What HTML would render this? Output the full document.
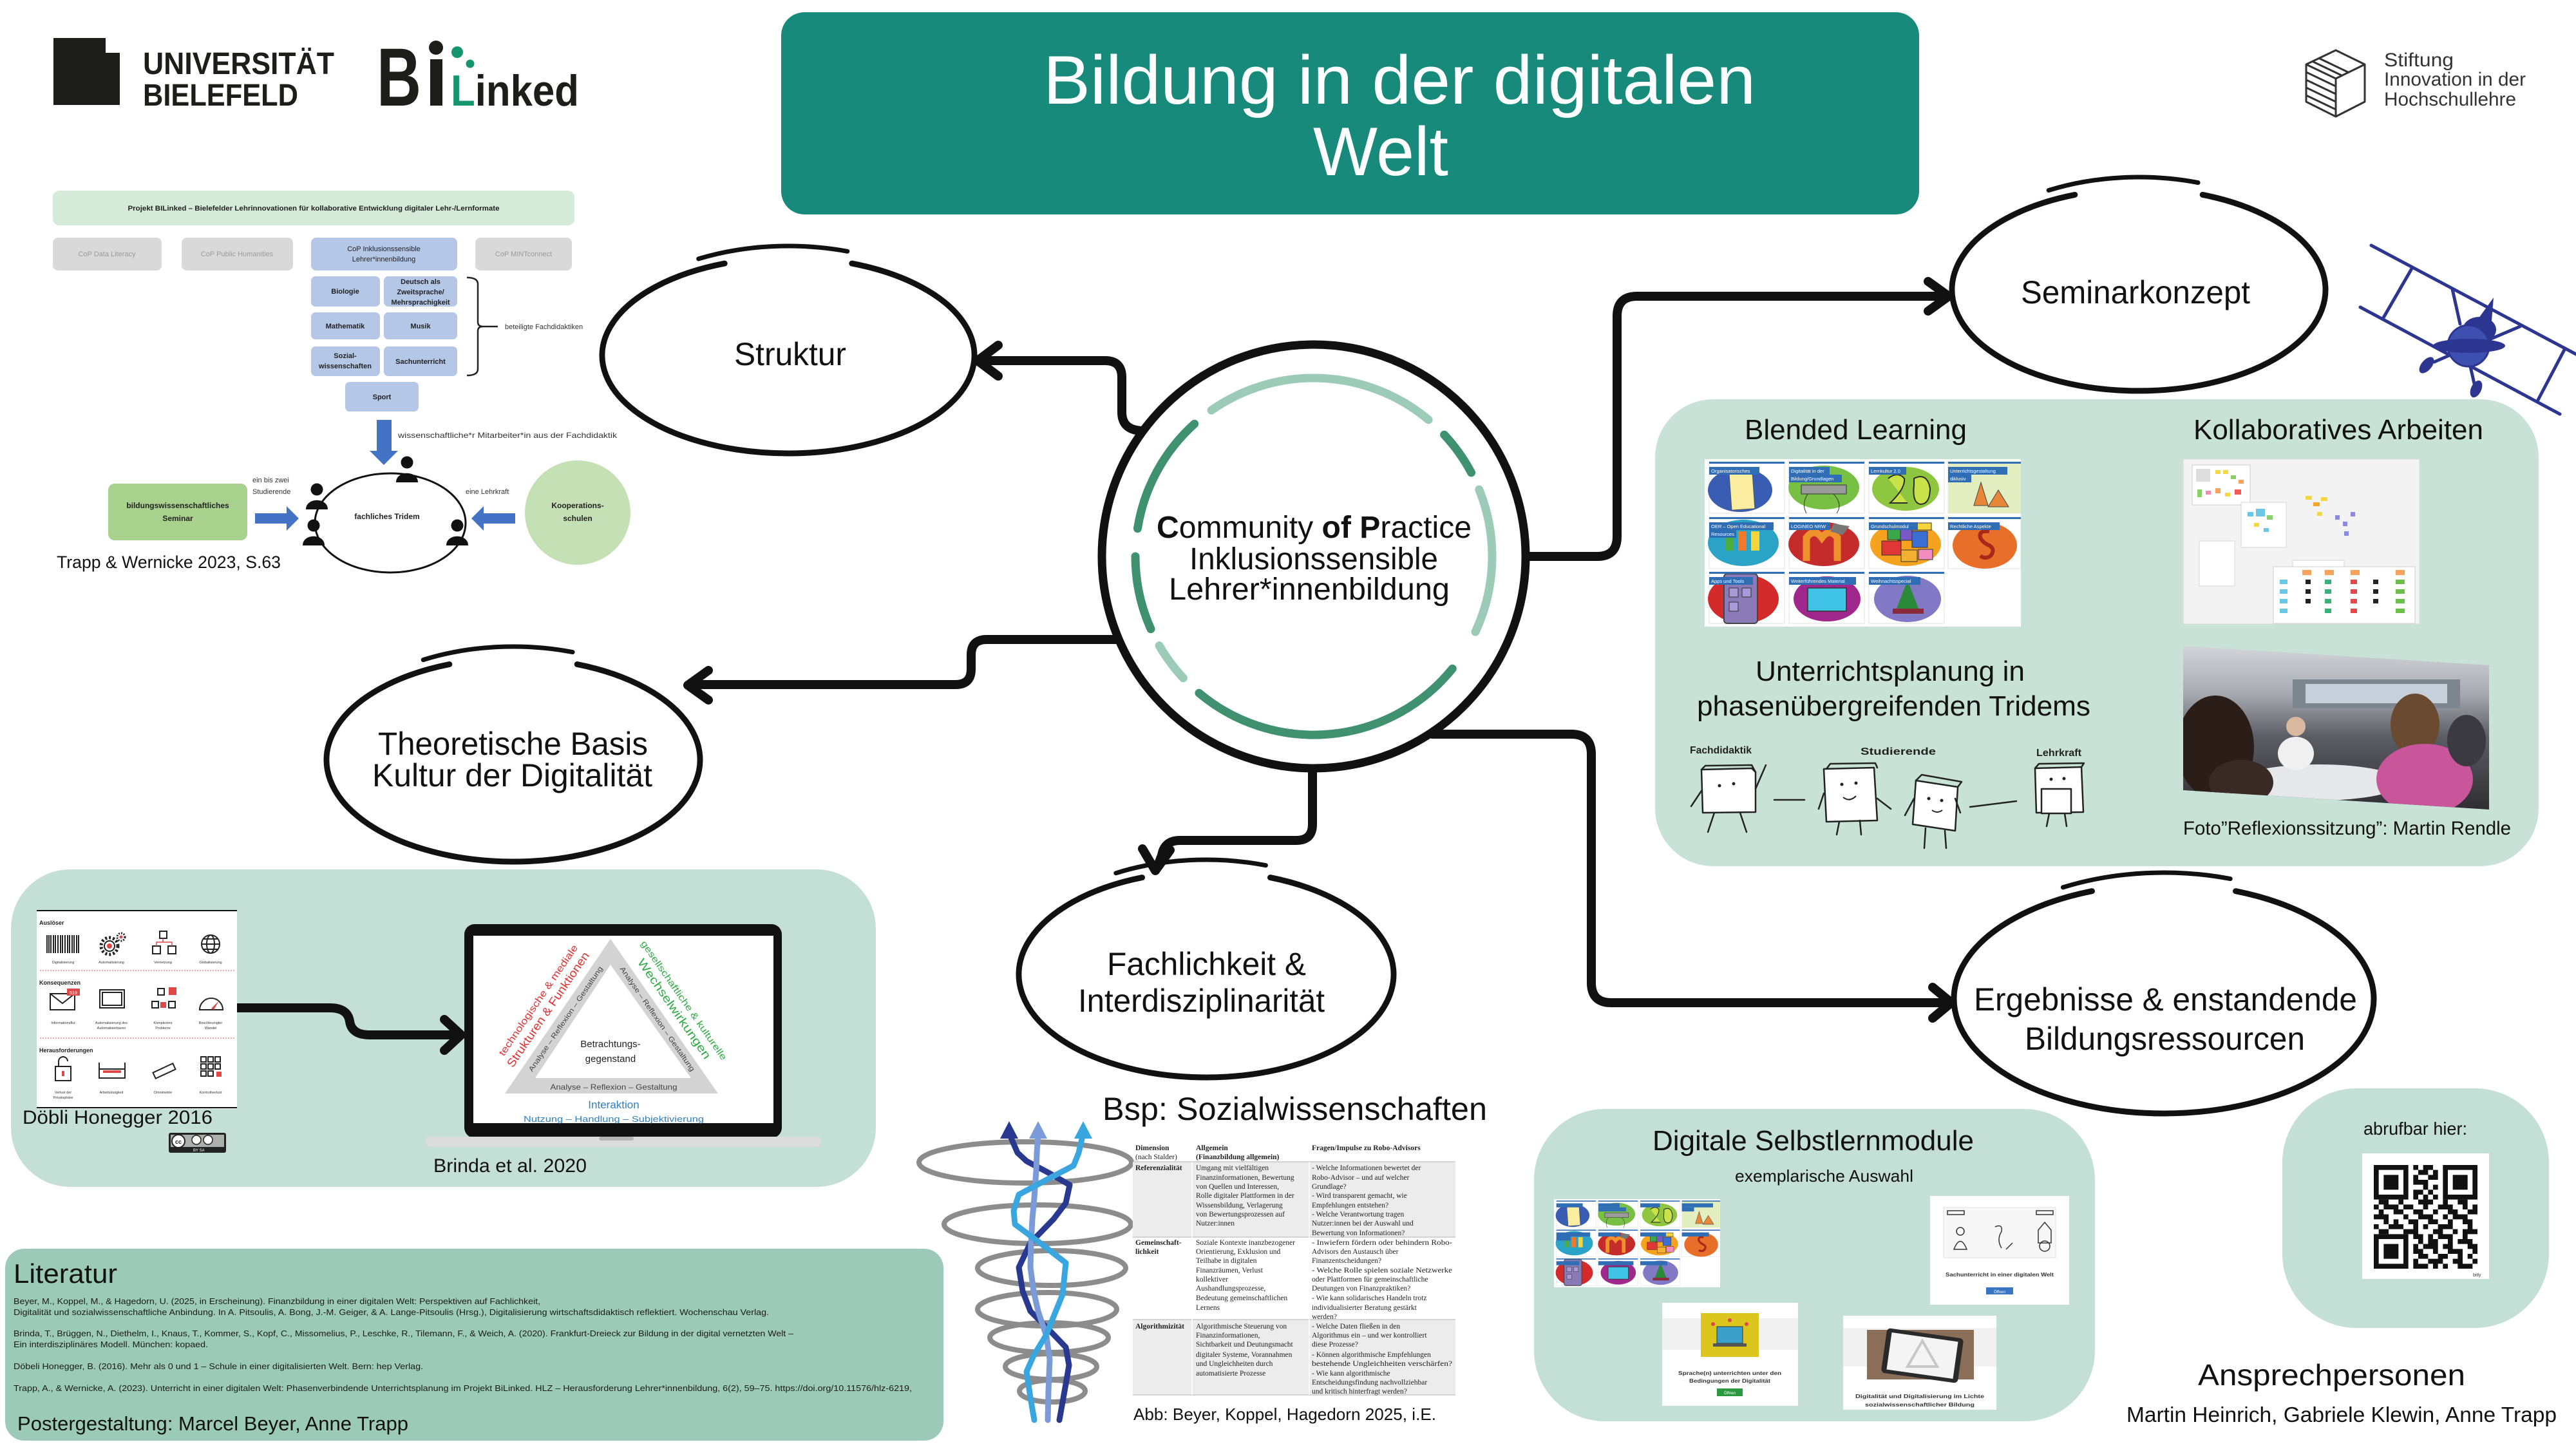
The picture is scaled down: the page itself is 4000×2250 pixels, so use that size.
<!DOCTYPE html>
<html><head><meta charset="utf-8">
<style>
html,body{margin:0;padding:0;background:#fff;}
body{width:4000px;height:2250px;overflow:hidden;}
svg{display:block;font-family:"Liberation Sans",Arial,sans-serif;}
.ser{font-family:"Liberation Serif","Times New Roman",serif;}
</style></head><body>
<svg width="4000" height="2250" viewBox="0 0 4000 2250" xmlns="http://www.w3.org/2000/svg">
<defs>
<symbol id="grid" viewBox="0 0 491 260">
<rect width="491" height="260" fill="#fff"/>
<g stroke="#e2e2e2" fill="#fff">
<rect x="7" y="4" width="117" height="80"/><rect x="131" y="4" width="117" height="80"/><rect x="255" y="4" width="117" height="80"/><rect x="378" y="4" width="113" height="80"/>
<rect x="7" y="90" width="117" height="80"/><rect x="131" y="90" width="117" height="80"/><rect x="255" y="90" width="117" height="80"/><rect x="378" y="90" width="113" height="80"/>
<rect x="7" y="175" width="117" height="80"/><rect x="131" y="175" width="117" height="80"/><rect x="255" y="175" width="117" height="80"/>
</g>
<ellipse cx="55" cy="48" rx="50" ry="34" fill="#3a5db4"/>
<rect x="40" y="22" width="36" height="56" fill="#fbeea0" stroke="#555" transform="rotate(-4 58 50)"/>
<ellipse cx="185" cy="44" rx="55" ry="34" fill="#78c043"/>
<rect x="150" y="40" width="70" height="14" fill="#9a9a9a" stroke="#333"/>
<path d="M160 54 Q150 70 158 84 M200 54 Q215 70 205 84" stroke="#333" fill="none"/>
<ellipse cx="312" cy="46" rx="52" ry="34" fill="#8ec63f"/>
<path d="M285 30 Q300 18 310 30 Q312 45 288 68 H315 M325 30 Q345 20 350 45 Q350 70 335 70 Q322 68 325 40Z" stroke="#2a2a2a" stroke-width="2" fill="#c9e24a"/>
<rect x="378" y="4" width="113" height="80" fill="#e2eebf"/>
<polygon points="418,72 429,36 440,72" fill="#e8873a" stroke="#444"/>
<polygon points="440,74 456,48 472,74" fill="#e8873a" stroke="#444"/>
<ellipse cx="60" cy="130" rx="55" ry="36" fill="#2aa3c6"/>
<rect x="33" y="112" width="11" height="30" fill="#4cae3c"/><rect x="52" y="112" width="13" height="30" fill="#f07a2a"/><rect x="72" y="112" width="13" height="30" fill="#f5d53a"/>
<ellipse cx="185" cy="132" rx="55" ry="34" fill="#c42b2b"/>
<path d="M158 158 V122 Q170 106 182 122 Q194 106 206 122 V158" stroke="#f0922b" stroke-width="11" fill="none"/>
<polygon points="200,100 225,104 214,118 195,112" fill="#777"/>
<ellipse cx="312" cy="132" rx="55" ry="34" fill="#f5a21e"/>
<rect x="275" y="127" width="30" height="22" fill="#e03636" stroke="#333"/><rect x="300" y="106" width="22" height="20" fill="#7a58c8" stroke="#333"/><rect x="322" y="112" width="24" height="25" fill="#3b6fd4" stroke="#333"/><rect x="284" y="109" width="20" height="16" fill="#3aa84a" stroke="#333"/><rect x="305" y="141" width="25" height="18" fill="#f5b032" stroke="#333"/><rect x="332" y="140" width="22" height="16" fill="#f28cc0" stroke="#333"/><rect x="322" y="99" width="30" height="11" fill="#f7d43c" stroke="#333"/>
<ellipse cx="435" cy="134" rx="50" ry="36" fill="#e86f2a"/>
<path d="M442 112 Q425 110 428 122 Q432 130 442 134 Q452 140 444 150 Q436 156 428 150" stroke="#a8281a" stroke-width="6" fill="none"/>
<ellipse cx="60" cy="217" rx="55" ry="38" fill="#d52a2a"/>
<rect x="30" y="178" width="52" height="77" rx="5" fill="#8b7ab8" stroke="#444" stroke-width="2"/>
<rect x="38" y="200" width="14" height="14" fill="#a89ad8" stroke="#333"/><rect x="58" y="200" width="14" height="14" fill="#a89ad8" stroke="#333"/><rect x="38" y="222" width="14" height="14" fill="#a89ad8" stroke="#333"/>
<ellipse cx="190" cy="217" rx="52" ry="35" fill="#a0288c"/>
<rect x="160" y="200" width="60" height="36" fill="#3fc4e6" stroke="#333" stroke-width="1.5"/>
<ellipse cx="315" cy="217" rx="52" ry="36" fill="#8179c6"/>
<polygon points="315,188 298,232 332,232" fill="#2a8a3a"/>
<rect x="292" y="232" width="48" height="8" fill="#8a2a3a"/>
<g fill="#2f6db5">
<rect x="7" y="4" width="117" height="3"/><rect x="131" y="4" width="117" height="3"/><rect x="255" y="4" width="117" height="3"/><rect x="378" y="4" width="113" height="3"/>
<rect x="7" y="90" width="117" height="3"/><rect x="131" y="90" width="117" height="3"/><rect x="255" y="90" width="117" height="3"/><rect x="378" y="90" width="113" height="3"/>
<rect x="7" y="175" width="117" height="3"/><rect x="131" y="175" width="117" height="3"/><rect x="255" y="175" width="117" height="3"/>
<rect x="7" y="12" width="78" height="12"/><rect x="131" y="12" width="63" height="12"/><rect x="131" y="24" width="82" height="12"/>
<rect x="255" y="12" width="58" height="12"/><rect x="378" y="12" width="92" height="12"/><rect x="378" y="24" width="36" height="12"/>
<rect x="7" y="98" width="100" height="12"/><rect x="7" y="110" width="42" height="12"/><rect x="131" y="98" width="64" height="12"/>
<rect x="255" y="98" width="76" height="12"/><rect x="378" y="98" width="80" height="12"/>
<rect x="7" y="183" width="68" height="12"/><rect x="131" y="183" width="104" height="12"/><rect x="255" y="183" width="80" height="12"/>
</g>
</symbol>
<linearGradient id="ph" x1="0" y1="0" x2="0" y2="1">
<stop offset="0" stop-color="#d4d7db"/><stop offset="0.3" stop-color="#a6aab0"/><stop offset="0.55" stop-color="#5b5e64"/><stop offset="1" stop-color="#2e2c30"/>
</linearGradient>
<clipPath id="phc"><polygon points="3390,1003 3865,1033 3865,1257 3390,1227"/></clipPath>
</defs>

<!-- ===== LOGOS ===== -->
<path d="M83 59H164V82H186V163H83Z" fill="#1d1d1b"/>
<text x="222" y="115" font-size="48" font-weight="700" textLength="297" lengthAdjust="spacingAndGlyphs" fill="#1d1d1b">UNIVERSITÄT</text>
<text x="222" y="164" font-size="48" font-weight="700" textLength="241" lengthAdjust="spacingAndGlyphs" fill="#1d1d1b">BIELEFELD</text>
<text x="585" y="164" font-size="128" font-weight="700" textLength="69" lengthAdjust="spacingAndGlyphs" fill="#1d1d1b">B</text>
<rect x="668" y="92" width="19" height="72" fill="#1d1d1b"/>
<circle cx="677" cy="74" r="11" fill="#1d1d1b"/>
<circle cx="710" cy="81" r="9" fill="#16966e"/>
<circle cx="730" cy="99" r="6.5" fill="#16966e"/>
<text x="700" y="164" font-size="68" font-weight="700" textLength="199" lengthAdjust="spacingAndGlyphs" fill="#1d1d1b"><tspan fill="#16966e">L</tspan>inked</text>

<g stroke="#333" stroke-width="3" fill="none" stroke-linejoin="round">
<path d="M3627 78 L3672 100 L3672 158 L3627 181 L3581 158 L3581 100 Z"/>
<path d="M3581 100 L3627 122 L3672 100 M3627 122 V181"/>
<path d="M3581 112 L3627 134 M3581 124 L3627 146 M3581 136 L3627 158 M3581 148 L3627 170 M3590 95 L3636 117 M3600 90 L3646 112"/>
</g>
<g font-size="30" fill="#333">
<text x="3702" y="103" textLength="108" lengthAdjust="spacingAndGlyphs">Stiftung</text>
<text x="3702" y="133" textLength="220" lengthAdjust="spacingAndGlyphs">Innovation in der</text>
<text x="3702" y="164" textLength="205" lengthAdjust="spacingAndGlyphs">Hochschullehre</text>
</g>

<!-- ===== TITLE ===== -->
<rect x="1213" y="19" width="1767" height="314" rx="36" fill="#178a7b"/>
<text x="1620" y="161" font-size="107" fill="#fff" textLength="1106" lengthAdjust="spacingAndGlyphs">Bildung in der digitalen</text>
<text x="2039" y="272" font-size="107" fill="#fff" textLength="210" lengthAdjust="spacingAndGlyphs">Welt</text>

<!-- ===== PANELS ===== -->
<rect x="2570" y="620" width="1372" height="725" rx="90" fill="#c8e2d7"/>
<rect x="17" y="1350" width="1343" height="493" rx="92" fill="#c4dfd5"/>
<rect x="2382" y="1722" width="871" height="485" rx="110" fill="#c4dfd5"/>
<rect x="3544" y="1690" width="414" height="372" rx="115" fill="#c4dfd5"/>
<rect x="8" y="1939" width="1457" height="298" rx="30" fill="#9ccab9"/>

<!-- ===== STRUCTURE DIAGRAM ===== -->
<rect x="82" y="296" width="810" height="54" rx="10" fill="#d5ead9"/>
<text x="487" y="327" font-size="11" font-weight="700" text-anchor="middle" textLength="577" lengthAdjust="spacingAndGlyphs" fill="#222">Projekt BILinked – Bielefelder Lehrinnovationen für kollaborative Entwicklung digitaler Lehr-/Lernformate</text>
<rect x="82" y="369" width="169" height="51" rx="8" fill="#d9d9d9"/>
<rect x="282" y="369" width="173" height="51" rx="8" fill="#d9d9d9"/>
<rect x="483" y="369" width="227" height="51" rx="8" fill="#b4c7e7"/>
<rect x="738" y="369" width="150" height="51" rx="8" fill="#d9d9d9"/>
<g font-size="11" fill="#9a9a9a" text-anchor="middle">
<text x="166" y="398">CoP Data Literacy</text>
<text x="368" y="398">CoP Public Humanities</text>
<text x="813" y="398">CoP MINTconnect</text>
</g>
<g fill="#b4c7e7">
<rect x="483" y="429" width="107" height="47" rx="7"/><rect x="596" y="429" width="114" height="47" rx="7"/>
<rect x="483" y="485" width="107" height="42" rx="7"/><rect x="596" y="485" width="114" height="42" rx="7"/>
<rect x="483" y="538" width="107" height="46" rx="7"/><rect x="596" y="538" width="114" height="46" rx="7"/>
<rect x="536" y="593" width="114" height="46" rx="7"/>
</g>
<g font-size="11" font-weight="700" fill="#222" text-anchor="middle">
<text x="596" y="390" font-weight="400">CoP Inklusionssensible</text>
<text x="596" y="406" font-weight="400">Lehrer*innenbildung</text>
<text x="536" y="456">Biologie</text>
<text x="653" y="441">Deutsch als</text>
<text x="653" y="457">Zweitsprache/</text>
<text x="653" y="473">Mehrsprachigkeit</text>
<text x="536" y="510">Mathematik</text>
<text x="653" y="510">Musik</text>
<text x="536" y="556">Sozial-</text>
<text x="536" y="572">wissenschaften</text>
<text x="653" y="565">Sachunterricht</text>
<text x="593" y="620">Sport</text>
</g>
<path d="M725 431 Q742 431 742 441 V500 Q742 507 750 507 H773 M750 507 Q742 507 742 514 V573 Q742 583 725 583" stroke="#222" stroke-width="2.5" fill="none"/>
<text x="784" y="511" font-size="11" fill="#333">beteiligte Fachdidaktiken</text>
<rect x="585" y="652" width="23" height="48" fill="#4472c4"/>
<polygon points="574,700 618,700 596,722" fill="#4472c4"/>
<text x="618" y="680" font-size="12" fill="#333" textLength="340" lengthAdjust="spacingAndGlyphs">wissenschaftliche*r Mitarbeiter*in aus der Fachdidaktik</text>
<ellipse cx="606" cy="812" rx="117" ry="77" fill="none" stroke="#111" stroke-width="3"/>
<g fill="#111">
<circle cx="632" cy="718" r="9.5"/><path d="M615 749 C615 730 649 730 649 749Z"/>
<circle cx="492" cy="760" r="9.5"/><path d="M475 791 C475 772 509 772 509 791Z"/>
<circle cx="487" cy="816" r="9.5"/><path d="M470 847 C470 828 504 828 504 847Z"/>
<circle cx="710" cy="816" r="9.5"/><path d="M693 847 C693 828 727 828 727 847Z"/>
</g>
<text x="601" y="806" font-size="12" font-weight="700" text-anchor="middle" fill="#222">fachliches Tridem</text>
<text x="392" y="749" font-size="11" fill="#333">ein bis zwei</text>
<text x="392" y="767" font-size="11" fill="#333">Studierende</text>
<text x="723" y="767" font-size="11" fill="#333">eine Lehrkraft</text>
<rect x="168" y="751" width="216" height="88" rx="10" fill="#a9d18e"/>
<text x="276" y="789" font-size="12" font-weight="700" text-anchor="middle" fill="#222">bildungswissenschaftliches</text>
<text x="276" y="809" font-size="12" font-weight="700" text-anchor="middle" fill="#222">Seminar</text>
<rect x="396" y="797" width="50" height="16" fill="#4472c4"/>
<polygon points="445,786 445,824 464,805" fill="#4472c4"/>
<polygon points="751,786 751,824 732,805" fill="#4472c4"/>
<rect x="750" y="797" width="50" height="16" fill="#4472c4"/>
<ellipse cx="897" cy="796" rx="82" ry="81" fill="#c5e0b4"/>
<text x="897" y="789" font-size="12" font-weight="700" text-anchor="middle" fill="#222">Kooperations-</text>
<text x="897" y="809" font-size="12" font-weight="700" text-anchor="middle" fill="#222">schulen</text>
<text x="88" y="882" font-size="27" fill="#111" textLength="348" lengthAdjust="spacingAndGlyphs">Trapp &amp; Wernicke 2023, S.63</text>

<!-- ===== CONNECTORS ===== -->
<g stroke="#111" stroke-width="14" fill="none" stroke-linecap="round" stroke-linejoin="round">
<path d="M1776 669 Q1742 669 1742 640 V586 Q1742 560 1716 560 H1522"/>
<path d="M1550 536 L1518 560 L1550 584"/>
<path d="M1740 993 H1532 Q1508 993 1508 1017 V1039 Q1508 1063 1484 1063 H1072"/>
<path d="M1100 1041 L1068 1064 L1100 1087"/>
<path d="M2370 864 H2480 Q2511 864 2511 833 V491 Q2511 460 2542 460 H3022"/>
<path d="M2994 437 L3026 460 L2994 483"/>
<path d="M2224 1140 H2440 Q2471 1140 2471 1171 V1526 Q2471 1557 2502 1557 H3024"/>
<path d="M3001 1533 L3030 1557 L3001 1581"/>
<path d="M2038 1195 V1280 Q2038 1305 2013 1305 H1832 Q1808 1305 1804 1328 L1797 1346"/>
<path d="M1774 1318 L1794 1352 L1817 1320"/>
<path d="M367 1565 H512 Q540 1565 543 1586 Q546 1607 574 1607 H712"/>
<path d="M690 1583 L716 1607 L690 1631"/>
</g>

<!-- ===== CENTRAL CIRCLE ===== -->
<circle cx="2040" cy="864" r="329" fill="#fff" stroke="#111" stroke-width="13"/>
<g fill="none" stroke-width="13" stroke-linecap="round">
<path d="M1881.1 637.1 A277 277 0 0 1 2218.1 651.8" stroke="#9ccbb7"/>
<path d="M2242.6 675.1 A277 277 0 0 1 2284.6 733.9" stroke="#3f9170"/>
<path d="M2296.8 760.2 A277 277 0 0 1 2291.0 981.1" stroke="#9ccbb7"/>
<path d="M2255.3 1038.3 A277 277 0 0 1 1861.9 1076.2" stroke="#3f9170"/>
<path d="M1837.4 1052.9 A277 277 0 0 1 1800.1 1002.5" stroke="#9ccbb7"/>
<path d="M1787.0 976.7 A277 277 0 0 1 1763 864" stroke="#3f9170"/>
<path d="M1766.4 820.7 A277 277 0 0 1 1854.7 658.2" stroke="#3f9170"/>
</g>
<g font-size="48" fill="#111">
<text x="1796" y="835" textLength="489" lengthAdjust="spacingAndGlyphs"><tspan font-weight="700">C</tspan>ommunity <tspan font-weight="700">of</tspan> <tspan font-weight="700">P</tspan>ractice</text>
<text x="1847" y="884" textLength="386" lengthAdjust="spacingAndGlyphs">Inklusionssensible</text>
<text x="1815" y="931" textLength="436" lengthAdjust="spacingAndGlyphs">Lehrer*innenbildung</text>
</g>

<!-- ===== HAND-DRAWN ELLIPSES ===== -->
<g stroke="#111" stroke-width="9" fill="none" stroke-linecap="round">
<path d="M1322.8 409.1 A289 152 0 1 1 1125.2 409.1"/>
<path d="M3420.2 302.4 A290 157 0 1 1 3221.8 302.4"/>
<path d="M896.2 1031.5 A290 158 0 1 1 697.8 1031.5"/>
<path d="M1972.5 1362.6 A291 160 0 1 1 1773.5 1362.6"/>
<path d="M3471.5 1383.7 A326 178 0 1 1 3248.5 1383.7"/>
</g>
<g stroke="#111" stroke-width="7" fill="none" stroke-linecap="round">
<path d="M1084.7 401.9 A297 170 0 0 1 1315.8 390.3"/>
<path d="M3181.2 295.5 A298 175 0 0 1 3413.1 283.6"/>
<path d="M657.2 1024.6 A298 176 0 0 1 889.1 1012.6"/>
<path d="M1732.8 1355.8 A299 178 0 0 1 1965.4 1343.7"/>
<path d="M3203.4 1377.9 A334 196 0 0 1 3463.2 1364.6"/>
</g>
<g font-size="50" fill="#111">
<text x="1140" y="567" textLength="174" lengthAdjust="spacingAndGlyphs">Struktur</text>
<text x="3138" y="471" textLength="356" lengthAdjust="spacingAndGlyphs">Seminarkonzept</text>
<text x="587" y="1172" textLength="419" lengthAdjust="spacingAndGlyphs">Theoretische Basis</text>
<text x="578" y="1221" textLength="435" lengthAdjust="spacingAndGlyphs">Kultur der Digitalität</text>
<text x="1719" y="1514" textLength="309" lengthAdjust="spacingAndGlyphs">Fachlichkeit &amp;</text>
<text x="1674" y="1571" textLength="383" lengthAdjust="spacingAndGlyphs">Interdisziplinarität</text>
<text x="3065" y="1569" textLength="595" lengthAdjust="spacingAndGlyphs">Ergebnisse &amp; enstandende</text>
<text x="3144" y="1630" textLength="435" lengthAdjust="spacingAndGlyphs">Bildungsressourcen</text>
</g>

<!-- ===== PLANE ===== -->
<g stroke="#2c3590" stroke-width="5" stroke-linecap="round" fill="none">
<path d="M3682 381 L4000 550 M3665 477 L3975 643 M3745 417 L3700 495 M3982 543 L3940 623 M3808 449 L3820 503 M3913 507 L3866 527 M3780 562 L3812 548 M3835 565 L3843 600"/>
</g>
<path d="M3846 498 L3872 462 L3868 510Z" fill="#2c3590"/>
<ellipse cx="3850" cy="512" rx="26" ry="20" fill="#2c3590"/>
<circle cx="3833" cy="537" r="32" fill="#3d50b0" stroke="#2c3590" stroke-width="3"/>
<ellipse cx="3834" cy="537" rx="56" ry="11" fill="#2c3590"/>
<ellipse cx="3768" cy="567" rx="8" ry="15" fill="#2c3590" transform="rotate(40 3768 567)"/>
<ellipse cx="3845" cy="604" rx="8" ry="14" fill="#2c3590" transform="rotate(25 3845 604)"/>

<!-- ===== RIGHT PANEL CONTENT ===== -->
<g font-size="44" fill="#111">
<text x="2709" y="682" textLength="345" lengthAdjust="spacingAndGlyphs">Blended Learning</text>
<text x="3406" y="682" textLength="450" lengthAdjust="spacingAndGlyphs">Kollaboratives Arbeiten</text>
<text x="2726" y="1057" textLength="418" lengthAdjust="spacingAndGlyphs">Unterrichtsplanung in</text>
<text x="2635" y="1111" textLength="611" lengthAdjust="spacingAndGlyphs">phasenübergreifenden Tridems</text>
</g>
<use href="#grid" x="2647" y="713" width="491" height="260"/>
<g font-size="7.5" fill="#fff">
<text x="2657" y="734">Organisatorisches</text>
<text x="2781" y="734">Digitalität in der</text>
<text x="2781" y="746">Bildung/Grundlagen</text>
<text x="2905" y="734">Lernkultur 2.0</text>
<text x="3028" y="734">Unterrichtsgestaltung</text>
<text x="3028" y="746">diklusiv</text>
<text x="2657" y="820">OER – Open Educational</text>
<text x="2657" y="832">Resources</text>
<text x="2781" y="820">LOGINEO NRW</text>
<text x="2905" y="820">Grundschulmodul</text>
<text x="3028" y="820">Rechtliche Aspekte</text>
<text x="2657" y="905">Apps und Tools</text>
<text x="2781" y="905">Weiterführendes Material</text>
<text x="2905" y="905">Weihnachtsspecial</text>
</g>
<!-- Kollaboratives image -->
<rect x="3390" y="713" width="367" height="256" fill="#f3f3f3" stroke="#dcdcdc"/>
<rect x="3404" y="722" width="90" height="62" fill="#fff" stroke="#ccc"/>
<rect x="3480" y="780" width="70" height="70" fill="#fff" stroke="#d5d5d5"/>
<rect x="3415" y="840" width="55" height="70" fill="#fff" stroke="#d5d5d5"/>
<rect x="3560" y="870" width="80" height="70" fill="#fff" stroke="#d5d5d5"/>
<rect x="3530" y="880" width="220" height="88" fill="#fff" stroke="#ccc"/>
<g>
<rect x="3410" y="728" width="22" height="20" fill="#ddd"/>
<rect x="3440" y="730" width="8" height="6" fill="#f5d742"/><rect x="3452" y="730" width="8" height="6" fill="#f5d742"/><rect x="3464" y="738" width="8" height="6" fill="#8bd06a"/><rect x="3476" y="745" width="8" height="6" fill="#f7a35c"/>
<rect x="3412" y="760" width="7" height="12" fill="#8bd06a"/><rect x="3425" y="762" width="8" height="6" fill="#f28cb1"/><rect x="3440" y="758" width="8" height="8" fill="#f7a35c"/><rect x="3455" y="765" width="8" height="6" fill="#f5d742"/><rect x="3470" y="760" width="10" height="8" fill="#f25a5a"/>
<rect x="3490" y="795" width="9" height="7" fill="#6ac8e6"/><rect x="3503" y="790" width="14" height="12" fill="#6ac8e6"/><rect x="3520" y="800" width="9" height="7" fill="#8bd06a"/><rect x="3500" y="812" width="8" height="6" fill="#f5d742"/><rect x="3515" y="820" width="8" height="6" fill="#6ac8e6"/>
<rect x="3580" y="770" width="10" height="6" fill="#f5d742"/><rect x="3592" y="780" width="10" height="6" fill="#f5a623"/><rect x="3604" y="772" width="10" height="6" fill="#f5d742"/><rect x="3598" y="795" width="8" height="6" fill="#f5d742"/>
<rect x="3626" y="800" width="7" height="7" fill="#8a8ae0"/><rect x="3638" y="810" width="7" height="7" fill="#8a8ae0"/><rect x="3640" y="825" width="7" height="7" fill="#8a8ae0"/><rect x="3650" y="795" width="7" height="7" fill="#8a8ae0"/>
<rect x="3575" y="885" width="14" height="8" fill="#f7a35c"/><rect x="3610" y="885" width="14" height="8" fill="#f7a35c"/><rect x="3650" y="885" width="14" height="8" fill="#f7a35c"/><rect x="3720" y="885" width="14" height="8" fill="#f7a35c"/>
<rect x="3540" y="900" width="12" height="7" fill="#6ac8e6"/><rect x="3540" y="915" width="12" height="7" fill="#6ac8e6"/><rect x="3540" y="930" width="12" height="7" fill="#6ac8e6"/><rect x="3540" y="945" width="12" height="7" fill="#6ac8e6"/>
<rect x="3610" y="900" width="10" height="7" fill="#3ab07a"/><rect x="3610" y="915" width="10" height="7" fill="#3ab07a"/><rect x="3610" y="930" width="10" height="7" fill="#3ab07a"/><rect x="3610" y="945" width="10" height="7" fill="#3ab07a"/>
<rect x="3650" y="900" width="10" height="7" fill="#e04a4a"/><rect x="3650" y="915" width="10" height="7" fill="#e04a4a"/><rect x="3650" y="930" width="10" height="7" fill="#e04a4a"/><rect x="3650" y="945" width="10" height="7" fill="#e04a4a"/>
<rect x="3720" y="900" width="14" height="7" fill="#6cc04a"/><rect x="3720" y="915" width="14" height="7" fill="#6cc04a"/><rect x="3720" y="930" width="14" height="7" fill="#6cc04a"/><rect x="3720" y="945" width="14" height="7" fill="#6cc04a"/>
<rect x="3580" y="900" width="8" height="7" fill="#222"/><rect x="3580" y="915" width="8" height="7" fill="#222"/><rect x="3580" y="930" width="8" height="7" fill="#222"/><rect x="3685" y="900" width="8" height="7" fill="#222"/><rect x="3685" y="915" width="8" height="7" fill="#222"/><rect x="3685" y="930" width="8" height="7" fill="#222"/>
</g>
<!-- Photo -->
<g clip-path="url(#phc)">
<rect x="3390" y="1000" width="480" height="260" fill="url(#ph)"/>
<rect x="3560" y="1055" width="260" height="45" fill="#7d858f"/>
<rect x="3580" y="1062" width="220" height="30" fill="#c6d0da"/>
<ellipse cx="3600" cy="1215" rx="130" ry="28" fill="#e6e7ea"/>
<ellipse cx="3440" cy="1160" rx="60" ry="80" fill="#2b1d17"/>
<ellipse cx="3480" cy="1215" rx="50" ry="35" fill="#3a2a25"/>
<circle cx="3565" cy="1128" r="15" fill="#d9b8a0"/>
<ellipse cx="3565" cy="1170" rx="28" ry="26" fill="#f0f0f0"/>
<ellipse cx="3750" cy="1125" rx="38" ry="48" fill="#6a4a30"/>
<ellipse cx="3765" cy="1210" rx="75" ry="55" fill="#c9559a"/>
<ellipse cx="3830" cy="1150" rx="30" ry="40" fill="#3a3a40"/>
</g>
<text x="3390" y="1296" font-size="30" fill="#111" textLength="509" lengthAdjust="spacingAndGlyphs">Foto”Reflexionssitzung”: Martin Rendle</text>
<!-- Tridem figures -->
<g font-size="16" font-weight="700" fill="#222">
<text x="2624" y="1170" textLength="96" lengthAdjust="spacingAndGlyphs">Fachdidaktik</text>
<text x="2889" y="1172" textLength="117" lengthAdjust="spacingAndGlyphs">Studierende</text>
<text x="3162" y="1174" textLength="70" lengthAdjust="spacingAndGlyphs">Lehrkraft</text>
</g>
<g stroke="#222" stroke-width="2.5" fill="#fff" stroke-linecap="round" stroke-linejoin="round">
<path d="M2642 1195 L2720 1193 L2726 1199 L2726 1261 L2644 1262Z"/>
<path d="M2642 1195 L2648 1189 L2720 1188 L2726 1199" fill="none"/>
<path d="M2662 1262 L2652 1292 M2702 1262 L2712 1292 M2642 1228 L2626 1252 M2726 1225 L2742 1188" fill="none"/>
<path d="M2832 1194 L2910 1192 L2915 1274 L2836 1276Z"/>
<path d="M2836 1194 L2842 1186 L2912 1185 L2915 1192" fill="none"/>
<path d="M2856 1276 L2852 1296 M2888 1274 L2890 1296 M2832 1232 L2824 1256 M2915 1240 L2936 1256" fill="none"/>
<path d="M2975 1212 L3040 1222 L3036 1290 L2970 1280Z"/>
<path d="M2975 1212 L2984 1203 L3046 1214 L3040 1222" fill="none"/>
<path d="M2990 1286 L2988 1317 M3020 1290 L3022 1317 M2972 1240 L2958 1266 M3036 1240 L3044 1262" fill="none"/>
<path d="M3160 1193 L3232 1191 L3235 1261 L3162 1262Z"/>
<path d="M3160 1193 L3166 1186 L3236 1185 L3232 1191" fill="none"/>
<rect x="3170" y="1225" width="46" height="38"/>
<path d="M3182 1263 L3178 1283 M3206 1263 L3209 1283" fill="none"/>
<path d="M2755 1242 L2802 1242 M3059 1253 L3131 1244" fill="none"/>
</g>
<g fill="#222">
<circle cx="2670" cy="1220" r="2.5"/><circle cx="2692" cy="1217" r="2.5"/>
<circle cx="2860" cy="1218" r="2.5"/><circle cx="2882" cy="1216" r="2.5"/>
<circle cx="2995" cy="1240" r="2.5"/><circle cx="3015" cy="1243" r="2.5"/>
<circle cx="3185" cy="1210" r="2.5"/><circle cx="3205" cy="1209" r="2.5"/>
</g>
<path d="M2862 1238 Q2872 1246 2882 1236 M3000 1258 Q3008 1264 3016 1258" stroke="#222" stroke-width="2" fill="none"/>

<!-- ===== LEFT PANEL CONTENT ===== -->
<rect x="57" y="1413" width="311" height="309" fill="#fff"/>
<path d="M57 1414 H368 M57 1720 H368" stroke="#111" stroke-width="2"/>
<path d="M62 1507 H365 M62 1612 H365" stroke="#e05050" stroke-width="1" stroke-dasharray="2 2"/>
<g font-size="9" font-weight="700" fill="#222">
<text x="61" y="1436">Auslöser</text>
<text x="61" y="1529">Konsequenzen</text>
<text x="61" y="1634">Herausforderungen</text>
</g>
<g font-size="5.5" fill="#333" text-anchor="middle">
<text x="98" y="1496">Digitalisierung</text><text x="173" y="1496">Automatisierung</text><text x="253" y="1496">Vernetzung</text><text x="327" y="1496">Globalisierung</text>
<text x="98" y="1590">Informationsflut</text><text x="173" y="1590">Automatisierung des</text><text x="173" y="1598">Automatisierbaren</text><text x="253" y="1590">Komplexere</text><text x="253" y="1598">Probleme</text><text x="327" y="1590">Beschleunigter</text><text x="327" y="1598">Wandel</text>
<text x="98" y="1698">Verlust der</text><text x="98" y="1706">Privatsphäre</text><text x="173" y="1698">Arbeitslosigkeit</text><text x="253" y="1698">Omnimetrie</text><text x="327" y="1698">Kontrollverlust</text>
</g>
<g stroke="#222" stroke-width="2" fill="none">
<path d="M73 1452 V1480 M76 1452 V1480 M79 1452 V1480 M83 1452 V1480 M86 1452 V1480 M90 1452 V1480 M94 1452 V1480 M97 1452 V1480 M101 1452 V1480 M105 1452 V1480 M108 1452 V1480 M112 1452 V1480 M115 1452 V1480 M119 1452 V1480 M122 1452 V1480"/>
<circle cx="170" cy="1469" r="13" stroke-width="5" stroke-dasharray="3 3"/>
<circle cx="170" cy="1469" r="8"/>
<circle cx="188" cy="1455" r="6" stroke-width="3" stroke-dasharray="2 2"/>
<rect x="248" y="1446" width="11" height="11"/><rect x="237" y="1469" width="12" height="12"/><rect x="261" y="1469" width="12" height="12"/>
<circle cx="327" cy="1466" r="14"/><ellipse cx="327" cy="1466" rx="6" ry="14"/><path d="M313 1466 H341 M315 1458 H339 M315 1474 H339"/>
<rect x="78" y="1543" width="38" height="25"/><path d="M78 1543 L97 1558 L116 1543"/>
<rect x="155" y="1537" width="38" height="28"/><rect x="159" y="1541" width="30" height="20"/>
<rect x="245" y="1535" width="10" height="10"/><rect x="236" y="1555" width="10" height="10"/><rect x="262" y="1555" width="10" height="10"/>
<path d="M310 1568 A18 18 0 0 1 346 1568 Z"/>
<rect x="86" y="1656" width="24" height="22"/><path d="M91 1656 V1648 A7 7 0 0 1 105 1648"/>
<path d="M154 1650 V1674 H194 V1650 M154 1660 H194"/>
<rect x="238" y="1658" width="34" height="10" transform="rotate(-25 255 1663)"/>
<rect x="312" y="1641" width="8" height="8"/><rect x="323" y="1641" width="8" height="8"/><rect x="334" y="1641" width="8" height="8"/><rect x="312" y="1652" width="8" height="8"/><rect x="323" y="1652" width="8" height="8"/><rect x="334" y="1652" width="8" height="8"/><rect x="312" y="1663" width="8" height="8"/><rect x="323" y="1663" width="8" height="8"/>
</g>
<g fill="#e04848">
<circle cx="170" cy="1469" r="4"/><circle cx="188" cy="1455" r="2.5"/>
<rect x="104" y="1535" width="20" height="11"/>
<rect x="262" y="1533" width="12" height="12"/><rect x="249" y="1556" width="9" height="9"/>
<path d="M328 1566 L340 1554 L332 1568Z"/>
<rect x="96" y="1663" width="4" height="8"/>
<rect x="160" y="1662" width="28" height="4"/>
<rect x="336" y="1664" width="8" height="8"/>
</g>
<path d="M253 1457 V1463 H243 V1469 M253 1463 H267 V1469" stroke="#e04848" stroke-width="1.5" fill="none"/>
<text x="114" y="1544" font-size="7" fill="#fff" text-anchor="middle">519</text>
<text x="35" y="1745" font-size="30" fill="#111" textLength="295" lengthAdjust="spacingAndGlyphs">Döbli Honegger 2016</text>
<rect x="262" y="1759" width="89" height="31" rx="3" fill="#222"/>
<rect x="265" y="1762" width="83" height="19" fill="#aab0aa"/>
<circle cx="277" cy="1772" r="10" fill="#fff" stroke="#222" stroke-width="2"/>
<circle cx="305" cy="1770" r="7" fill="#fff" stroke="#222" stroke-width="1.5"/>
<circle cx="323" cy="1770" r="7" fill="#fff" stroke="#222" stroke-width="1.5"/>
<text x="272" y="1776" font-size="9" font-weight="700" fill="#222">cc</text>
<text x="300" y="1788" font-size="6" fill="#fff">BY   SA</text>
<!-- Laptop -->
<rect x="721" y="1435" width="493" height="332" rx="16" fill="#111"/>
<rect x="735" y="1453" width="466" height="291" fill="#fff"/>
<rect x="661" y="1765" width="614" height="16" rx="6" fill="#dcdcdc"/>
<rect x="930" y="1765" width="54" height="6" rx="3" fill="#b5b5b5"/>
<polygon points="948,1458 784,1698 1115,1698" fill="#d3d3d3"/>
<polygon points="948,1498 831,1674 1073,1674" fill="#fff"/>
<text x="878" y="1582" font-size="11" fill="#444" text-anchor="middle" transform="rotate(-55.7 878 1582)" dy="4" textLength="195" lengthAdjust="spacingAndGlyphs">Analyse – Reflexion – Gestaltung</text>
<text x="1021" y="1582" font-size="11" fill="#444" text-anchor="middle" transform="rotate(55.2 1021 1582)" dy="4" textLength="195" lengthAdjust="spacingAndGlyphs">Analyse – Reflexion – Gestaltung</text>
<text x="953" y="1692" font-size="12" fill="#444" text-anchor="middle" textLength="197" lengthAdjust="spacingAndGlyphs">Analyse – Reflexion – Gestaltung</text>
<text x="856" y="1571" font-size="18" fill="#e03030" text-anchor="middle" transform="rotate(-55.7 856 1571)" textLength="212" lengthAdjust="spacingAndGlyphs">Strukturen &amp; Funktionen</text>
<text x="840" y="1556" font-size="15" fill="#e03030" text-anchor="middle" transform="rotate(-55.7 840 1556)" textLength="205" lengthAdjust="spacingAndGlyphs">technologische &amp; mediale</text>
<text x="1042" y="1570" font-size="18" fill="#2faa45" text-anchor="middle" transform="rotate(55.2 1042 1570)" textLength="185" lengthAdjust="spacingAndGlyphs">Wechselwirkungen</text>
<text x="1058" y="1556" font-size="14" fill="#2faa45" text-anchor="middle" transform="rotate(55.2 1058 1556)" textLength="222" lengthAdjust="spacingAndGlyphs">gesellschaftliche &amp; kulturelle</text>
<text x="948" y="1626" font-size="15" fill="#222" text-anchor="middle">Betrachtungs-</text>
<text x="948" y="1649" font-size="15" fill="#222" text-anchor="middle">gegenstand</text>
<text x="953" y="1721" font-size="17" fill="#2e7fc0" text-anchor="middle">Interaktion</text>
<text x="953" y="1742" font-size="13" fill="#2e7fc0" text-anchor="middle" textLength="280" lengthAdjust="spacingAndGlyphs">Nutzung – Handlung – Subjektivierung</text>
<text x="673" y="1820" font-size="30" fill="#111" textLength="238" lengthAdjust="spacingAndGlyphs">Brinda et al. 2020</text>

<!-- ===== LITERATUR ===== -->
<text x="21" y="1992" font-size="42" fill="#111" textLength="161" lengthAdjust="spacingAndGlyphs">Literatur</text>
<g font-size="13" fill="#1a1a1a">
<text x="21" y="2025" textLength="818" lengthAdjust="spacingAndGlyphs">Beyer, M., Koppel, M., &amp; Hagedorn, U. (2025, in Erscheinung). Finanzbildung in einer digitalen Welt: Perspektiven auf Fachlichkeit,</text>
<text x="21" y="2042" textLength="1173" lengthAdjust="spacingAndGlyphs">Digitalität und sozialwissenschaftliche Anbindung. In A. Pitsoulis, A. Bong, J.-M. Geiger, &amp; A. Lange-Pitsoulis (Hrsg.), Digitalisierung wirtschaftsdidaktisch reflektiert. Wochenschau Verlag.</text>
<text x="21" y="2075" textLength="1211" lengthAdjust="spacingAndGlyphs">Brinda, T., Brüggen, N., Diethelm, I., Knaus, T., Kommer, S., Kopf, C., Missomelius, P., Leschke, R., Tilemann, F., &amp; Weich, A. (2020). Frankfurt-Dreieck zur Bildung in der digital vernetzten Welt –</text>
<text x="21" y="2092" textLength="302" lengthAdjust="spacingAndGlyphs">Ein interdisziplinäres Modell. München: kopaed.</text>
<text x="21" y="2126" textLength="636" lengthAdjust="spacingAndGlyphs">Döbeli Honegger, B. (2016). Mehr als 0 und 1 – Schule in einer digitalisierten Welt. Bern: hep Verlag.</text>
<text x="21" y="2160" textLength="1395" lengthAdjust="spacingAndGlyphs">Trapp, A., &amp; Wernicke, A. (2023). Unterricht in einer digitalen Welt: Phasenverbindende Unterrichtsplanung im Projekt BiLinked. HLZ – Herausforderung Lehrer*innenbildung, 6(2), 59–75. https://doi.org/10.11576/hlz-6219,</text>
</g>
<text x="27" y="2221" font-size="31" fill="#111" textLength="607" lengthAdjust="spacingAndGlyphs">Postergestaltung: Marcel Beyer, Anne Trapp</text>

<!-- ===== BSP SOZIALWISSENSCHAFTEN ===== -->
<text x="1712" y="1739" font-size="50" fill="#111" textLength="597" lengthAdjust="spacingAndGlyphs">Bsp: Sozialwissenschaften</text>
<g stroke="#8c8c8c" stroke-width="8" fill="none">
<ellipse cx="1592" cy="1805" rx="165" ry="32"/>
<ellipse cx="1611" cy="1901" rx="145" ry="30"/>
<ellipse cx="1633" cy="1969" rx="115" ry="27"/>
<ellipse cx="1626" cy="2033" rx="108" ry="26"/>
<ellipse cx="1629" cy="2077" rx="92" ry="23"/>
<ellipse cx="1632" cy="2122" rx="71" ry="20"/>
<ellipse cx="1634" cy="2160" rx="51" ry="17"/>
</g>
<g stroke-width="9" fill="none" stroke-linecap="round" stroke-linejoin="round">
<polyline points="1567,1760 1580,1790 1594,1803 1630,1822 1661,1840 1655,1868 1636,1893 1600,1930 1582,1968 1588,2005 1600,2036 1630,2066 1655,2092 1660,2120 1655,2149 1645,2205" stroke="#2a3990"/>
<polyline points="1612,1760 1610,1790 1609,1818 1606,1860 1603,1893 1601,1930 1600,1968 1605,2005 1612,2036 1625,2075 1630,2111 1628,2160 1627,2205" stroke="#7b9ad8"/>
<polyline points="1682,1760 1675,1790 1667,1810 1625,1832 1582,1855 1574,1880 1576,1901 1615,1930 1655,1961 1650,2010 1624,2074 1605,2105 1594,2130 1600,2170 1606,2205" stroke="#3aa6e0"/>
</g>
<polygon points="1567,1741 1553,1768 1581,1768" fill="#2a3990"/>
<polygon points="1612,1741 1598,1768 1626,1768" fill="#7b9ad8"/>
<polygon points="1682,1741 1668,1768 1696,1768" fill="#3aa6e0"/>
<!-- table -->
<rect x="1759" y="1804" width="501" height="117" fill="#ececec"/>
<rect x="1759" y="2049" width="501" height="117" fill="#ececec"/>
<path d="M1759 1804 H2260 M1759 1921 H2260 M1759 2049 H2260 M1759 2166 H2260" stroke="#c8c8c8" stroke-width="1.5"/>
<path d="M1851 1804 V2166 M2033 1804 V2166" stroke="#fff" stroke-width="1.5"/>
<g class="ser" font-size="11.5" fill="#222">
<g font-weight="700">
<text x="1763" y="1786">Dimension</text>
<text x="1857" y="1786">Allgemein</text>
<text x="1857" y="1800">(Finanzbildung allgemein)</text>
<text x="2037" y="1786">Fragen/Impulse zu Robo-Advisors</text>
<text x="1763" y="1817">Referenzialität</text>
<text x="1763" y="1933">Gemeinschaft-</text>
<text x="1763" y="1947">lichkeit</text>
<text x="1763" y="2063">Algorithmizität</text>
</g>
<text x="1763" y="1800">(nach Stalder)</text>
<text x="1857" y="1817">Umgang mit vielfältigen</text>
<text x="1857" y="1832">Finanzinformationen, Bewertung</text>
<text x="1857" y="1846">von Quellen und Interessen,</text>
<text x="1857" y="1860">Rolle digitaler Plattformen in der</text>
<text x="1857" y="1875">Wissensbildung, Verlagerung</text>
<text x="1857" y="1889">von Bewertungsprozessen auf</text>
<text x="1857" y="1903">Nutzer:innen</text>
<text x="2037" y="1817">- Welche Informationen bewertet der</text>
<text x="2037" y="1832">Robo-Advisor – und auf welcher</text>
<text x="2037" y="1846">Grundlage?</text>
<text x="2037" y="1860">- Wird transparent gemacht, wie</text>
<text x="2037" y="1875">Empfehlungen entstehen?</text>
<text x="2037" y="1889">- Welche Verantwortung tragen</text>
<text x="2037" y="1903">Nutzer:innen bei der Auswahl und</text>
<text x="2037" y="1918">Bewertung von Informationen?</text>
<text x="1857" y="1933">Soziale Kontexte inanzbezogener</text>
<text x="1857" y="1947">Orientierung, Exklusion und</text>
<text x="1857" y="1961">Teilhabe in digitalen</text>
<text x="1857" y="1976">Finanzräumen, Verlust</text>
<text x="1857" y="1990">kollektiver</text>
<text x="1857" y="2004">Aushandlungsprozesse,</text>
<text x="1857" y="2019">Bedeutung gemeinschaftlichen</text>
<text x="1857" y="2034">Lernens</text>
<text x="2037" y="1933" textLength="218" lengthAdjust="spacingAndGlyphs">- Inwiefern fördern oder behindern Robo-</text>
<text x="2037" y="1947">Advisors den Austausch über</text>
<text x="2037" y="1961">Finanzentscheidungen?</text>
<text x="2037" y="1976" textLength="218" lengthAdjust="spacingAndGlyphs">- Welche Rolle spielen soziale Netzwerke</text>
<text x="2037" y="1990">oder Plattformen für gemeinschaftliche</text>
<text x="2037" y="2004">Deutungen von Finanzpraktiken?</text>
<text x="2037" y="2019">- Wie kann solidarisches Handeln trotz</text>
<text x="2037" y="2034">individualisierter Beratung gestärkt</text>
<text x="2037" y="2048">werden?</text>
<text x="1857" y="2063">Algorithmische Steuerung von</text>
<text x="1857" y="2077">Finanzinformationen,</text>
<text x="1857" y="2091">Sichtbarkeit und Deutungsmacht</text>
<text x="1857" y="2107">digitaler Systeme, Vorannahmen</text>
<text x="1857" y="2121">und Ungleichheiten durch</text>
<text x="1857" y="2136">automatisierte Prozesse</text>
<text x="2037" y="2063">- Welche Daten fließen in den</text>
<text x="2037" y="2077">Algorithmus ein – und wer kontrolliert</text>
<text x="2037" y="2091">diese Prozesse?</text>
<text x="2037" y="2107">- Können algorithmische Empfehlungen</text>
<text x="2037" y="2121" textLength="218" lengthAdjust="spacingAndGlyphs">bestehende Ungleichheiten verschärfen?</text>
<text x="2037" y="2136">- Wie kann algorithmische</text>
<text x="2037" y="2150">Entscheidungsfindung nachvollziehbar</text>
<text x="2037" y="2164">und kritisch hinterfragt werden?</text>
</g>
<text x="1760" y="2205" font-size="26" fill="#111" textLength="470" lengthAdjust="spacingAndGlyphs">Abb: Beyer, Koppel, Hagedorn 2025, i.E.</text>

<!-- ===== DIGITALE SELBSTLERNMODULE ===== -->
<text x="2566" y="1786" font-size="44" fill="#111" textLength="499" lengthAdjust="spacingAndGlyphs">Digitale Selbstlernmodule</text>
<text x="2694" y="1835" font-size="26" fill="#111" textLength="277" lengthAdjust="spacingAndGlyphs">exemplarische Auswahl</text>
<use href="#grid" x="2413" y="1862" width="258" height="137"/>
<rect x="2997" y="1857" width="216" height="169" fill="#fff"/>
<rect x="3018" y="1875" width="174" height="78" fill="#f7f7f7" stroke="#e0e0e0"/>
<g stroke="#333" stroke-width="1.5" fill="none">
<rect x="3024" y="1880" width="26" height="6"/><rect x="3162" y="1880" width="26" height="6"/>
<circle cx="3044" cy="1912" r="6"/><path d="M3034 1940 Q3044 1915 3054 1940Z"/>
<path d="M3098 1905 Q3110 1900 3108 1912 Q3100 1925 3108 1938 M3115 1940 L3125 1930"/>
<path d="M3165 1910 L3175 1898 L3185 1910 V1930 H3165Z"/><circle cx="3175" cy="1935" r="8"/>
</g>
<text x="3105" y="1982" font-size="8.5" font-weight="700" fill="#333" text-anchor="middle" textLength="168" lengthAdjust="spacingAndGlyphs">Sachunterricht in einer digitalen Welt</text>
<rect x="3084" y="1999" width="42" height="11" fill="#3a75c4"/>
<text x="3105" y="2008" font-size="6" fill="#fff" text-anchor="middle">Öffnen</text>
<rect x="2581" y="2023" width="211" height="160" fill="#fff"/>
<rect x="2581" y="2047" width="211" height="49" fill="#f1f1f1"/>
<rect x="2641" y="2039" width="90" height="68" fill="#dcc61e"/>
<rect x="2666" y="2060" width="40" height="26" fill="#3aa0c8" stroke="#333"/>
<rect x="2660" y="2086" width="52" height="5" fill="#555"/>
<circle cx="2660" cy="2056" r="3" fill="#e04848"/><circle cx="2686" cy="2050" r="3" fill="#e04848"/><circle cx="2712" cy="2056" r="3" fill="#e04848"/>
<text x="2686" y="2135" font-size="8.5" font-weight="700" fill="#333" text-anchor="middle" textLength="160" lengthAdjust="spacingAndGlyphs">Sprache(n) unterrichten unter den</text>
<text x="2686" y="2147" font-size="8.5" font-weight="700" fill="#333" text-anchor="middle" textLength="126" lengthAdjust="spacingAndGlyphs">Bedingungen der Digitalität</text>
<rect x="2666" y="2156" width="40" height="12" fill="#2a9a40"/>
<text x="2686" y="2165" font-size="6" fill="#fff" text-anchor="middle">Öffnen</text>
<rect x="2862" y="2043" width="238" height="146" fill="#fff"/>
<rect x="2862" y="2062" width="238" height="60" fill="#f1f1f1"/>
<rect x="2899" y="2065" width="166" height="77" fill="#8a6e58"/>
<rect x="2925" y="2070" width="120" height="70" rx="6" fill="#2a2a2a" transform="rotate(8 2985 2105)"/>
<rect x="2933" y="2076" width="104" height="58" fill="#f4f4f4" transform="rotate(8 2985 2105)"/>
<polygon points="2985,2082 2962,2122 3008,2122" fill="none" stroke="#c8c8c8" stroke-width="4"/>
<text x="2981" y="2171" font-size="8.5" font-weight="700" fill="#333" text-anchor="middle" textLength="200" lengthAdjust="spacingAndGlyphs">Digitalität und Digitalisierung im Lichte</text>
<text x="2981" y="2184" font-size="8.5" font-weight="700" fill="#333" text-anchor="middle" textLength="170" lengthAdjust="spacingAndGlyphs">sozialwissenschaftlicher Bildung</text>

<!-- ===== QR + CONTACTS ===== -->
<text x="3670" y="1762" font-size="28" fill="#111" textLength="161" lengthAdjust="spacingAndGlyphs">abrufbar hier:</text>
<rect x="3668" y="1791" width="197" height="195" fill="#fff"/>
<g transform="translate(3686 1809) scale(7.667)" fill="#111">
<path fill-rule="evenodd" d="M0 0h7v7h-7z M1 1v5h5v-5z M2 2h3v3h-3z M14 0h7v7h-7z M15 1v5h5v-5z M16 2h3v3h-3z M0 14h7v7h-7z M1 15v5h5v-5z M2 16h3v3h-3z"/>
<path d="M8 0h1v1h-1z M10 0h2v1h-2z M9 1h2v1h-2z M12 1h1v1h-1z M8 2h1v1h-1z M11 2h2v1h-2z M8 3h3v1h-3z M10 4h1v1h-1z M12 4h1v1h-1z M8 5h2v1h-2z M11 5h1v1h-1z M8 6h1v1h-1z M10 6h1v1h-1z M12 6h1v1h-1z
M1 7h2v1h-2z M5 7h1v1h-1z M9 7h3v1h-3z M14 7h1v1h-1z M17 7h2v1h-2z
M0 8h1v1h-1z M2 8h3v1h-3z M6 8h2v1h-2z M10 8h1v1h-1z M13 8h3v1h-3z M18 8h1v1h-1z M20 8h1v1h-1z
M1 9h1v1h-1z M4 9h2v1h-2z M8 9h2v1h-2z M12 9h1v1h-1z M15 9h2v1h-2z M19 9h2v1h-2z
M0 10h3v1h-3z M6 10h1v1h-1z M9 10h3v1h-3z M14 10h1v1h-1z M16 10h3v1h-3z
M2 11h1v1h-1z M4 11h1v1h-1z M7 11h2v1h-2z M11 11h2v1h-2z M15 11h1v1h-1z M18 11h2v1h-2z
M0 12h1v1h-1z M3 12h3v1h-3z M8 12h1v1h-1z M10 12h1v1h-1z M13 12h3v1h-3z M19 12h1v1h-1z
M1 13h2v1h-2z M6 13h3v1h-3z M12 13h2v1h-2z M16 13h1v1h-1z M18 13h3v1h-3z
M8 14h2v1h-2z M11 14h1v1h-1z M13 14h3v1h-3z M18 14h1v1h-1z
M9 15h1v1h-1z M11 15h2v1h-2z M15 15h1v1h-1z M17 15h3v1h-3z
M8 16h1v1h-1z M10 16h3v1h-3z M14 16h2v1h-2z M19 16h2v1h-2z
M8 17h2v1h-2z M12 17h1v1h-1z M15 17h3v1h-3z M20 17h1v1h-1z
M9 18h2v1h-2z M13 18h2v1h-2z M17 18h1v1h-1z M19 18h1v1h-1z
M8 19h1v1h-1z M11 19h3v1h-3z M16 19h2v1h-2z M20 19h1v1h-1z
M8 20h3v1h-3z M12 20h1v1h-1z M14 20h1v1h-1z M17 20h3v1h-3z"/>
</g>
<text x="3840" y="1982" font-size="7" fill="#333">bitly</text>
<text x="3413" y="2151" font-size="46" fill="#111" textLength="415" lengthAdjust="spacingAndGlyphs">Ansprechpersonen</text>
<text x="3302" y="2208" font-size="33" fill="#111" textLength="668" lengthAdjust="spacingAndGlyphs">Martin Heinrich, Gabriele Klewin, Anne Trapp</text>
</svg>
</body></html>
